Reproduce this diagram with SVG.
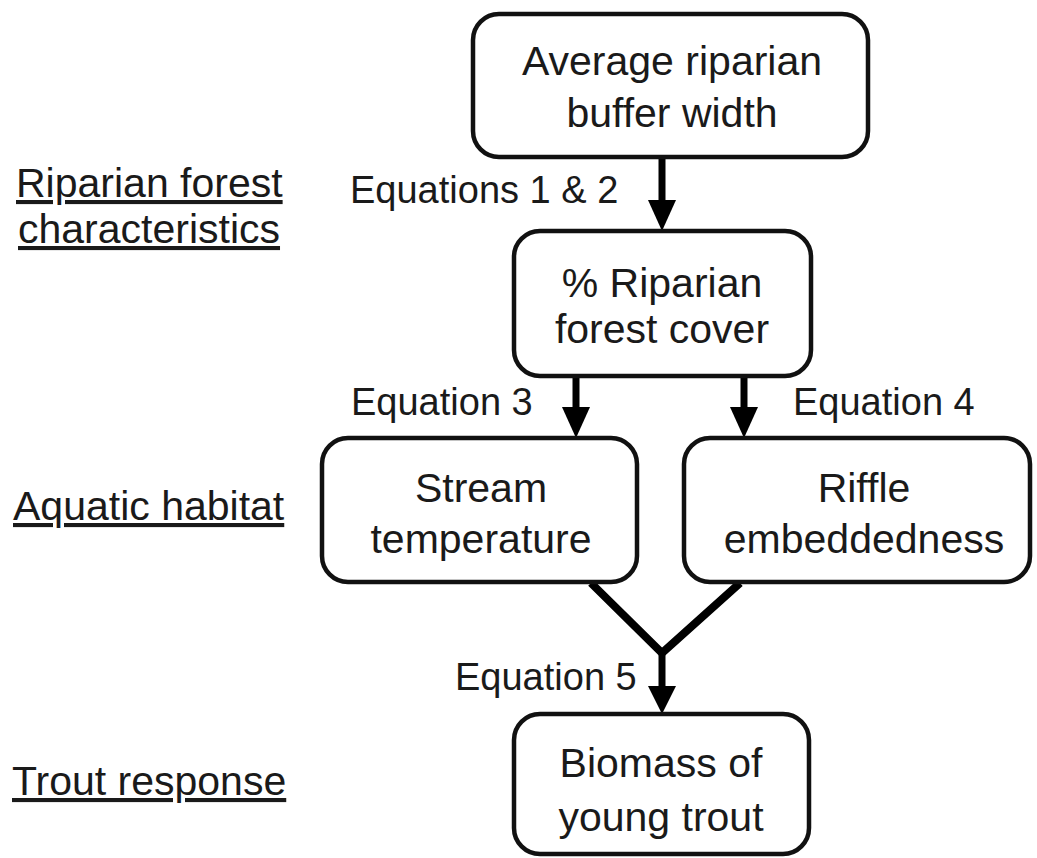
<svg xmlns="http://www.w3.org/2000/svg" width="1037" height="858" viewBox="0 0 1037 858">
<style>
.box{fill:#fff;stroke:#111;stroke-width:4.5}
.t{font-family:"Liberation Sans",Arial,sans-serif;font-size:41px;fill:#1a1a1a;text-anchor:middle}
.eq{font-family:"Liberation Sans",Arial,sans-serif;font-size:38px;fill:#1a1a1a}
.sec{font-family:"Liberation Sans",Arial,sans-serif;font-size:41px;fill:#1a1a1a;text-decoration:underline}
.ln{fill:none;stroke:#000;stroke-width:7}
.hd{fill:#000}
</style>
<rect width="1037" height="858" fill="#fff"/>
<g id="section-labels">
<text class="sec" x="16" y="197">Riparian forest</text>
<text class="sec" x="18" y="243">characteristics</text>
<text class="sec" x="13" y="520">Aquatic habitat</text>
<text class="sec" x="12" y="795">Trout response</text>
</g>
<g id="connectors">
<line class="ln" x1="662" y1="158" x2="662" y2="204"/>
<polygon class="hd" points="648,200 676,200 662,231"/>
<line class="ln" x1="576" y1="377" x2="576" y2="411"/>
<polygon class="hd" points="562,407 590,407 576,438"/>
<line class="ln" x1="744" y1="377" x2="744" y2="411"/>
<polygon class="hd" points="730,407 758,407 744,438"/>
<polyline class="ln" style="stroke-width:8;stroke-linejoin:miter" points="591,583 662,653 740,583"/>
<line class="ln" x1="662" y1="650" x2="662" y2="690"/>
<polygon class="hd" points="648,686 676,686 662,714"/>
<text class="eq" x="350" y="203">Equations 1 &amp; 2</text>
<text class="eq" x="351" y="415">Equation 3</text>
<text class="eq" x="793" y="415">Equation 4</text>
<text class="eq" x="455" y="690">Equation 5</text>
</g>
<g id="node-buffer">
<rect class="box" x="473" y="14" width="395" height="143" rx="26"/>
<text class="t" x="672" y="75">Average riparian</text>
<text class="t" x="672" y="127">buffer width</text>
</g>
<g id="node-forest-cover">
<rect class="box" x="514" y="231" width="297" height="145" rx="26"/>
<text class="t" x="662" y="297">% Riparian</text>
<text class="t" x="662" y="343">forest cover</text>
</g>
<g id="node-temperature">
<rect class="box" x="322" y="438" width="315" height="144" rx="26"/>
<text class="t" x="481" y="502">Stream</text>
<text class="t" x="481" y="553">temperature</text>
</g>
<g id="node-embeddedness">
<rect class="box" x="684" y="438" width="346" height="144" rx="26"/>
<text class="t" x="864" y="502">Riffle</text>
<text class="t" x="864" y="553">embeddedness</text>
</g>
<g id="node-biomass">
<rect class="box" x="514" y="714" width="295" height="140" rx="26"/>
<text class="t" x="661" y="777">Biomass of</text>
<text class="t" x="661" y="831">young trout</text>
</g>
</svg>
